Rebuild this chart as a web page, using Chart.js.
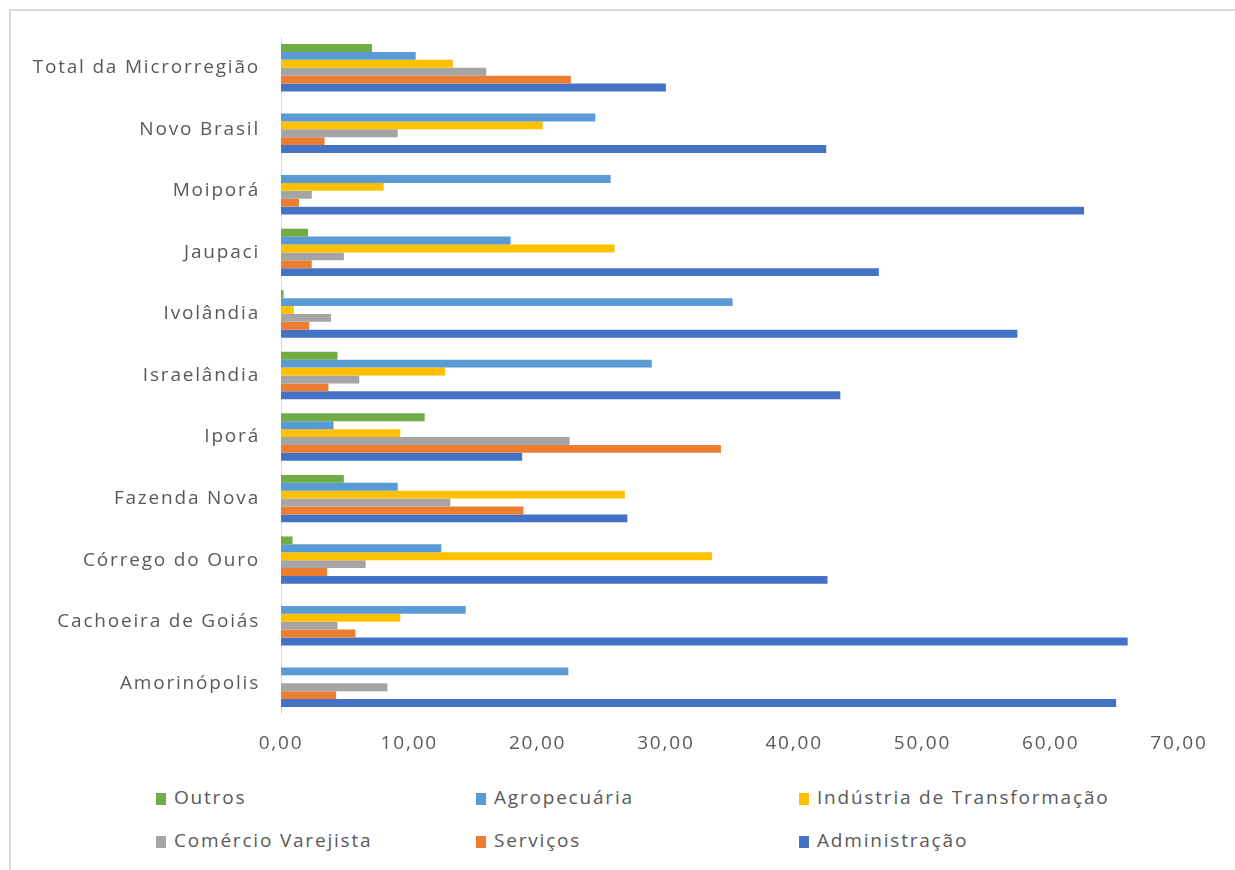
<!DOCTYPE html>
<html>
<head>
<meta charset="utf-8">
<script src="https://cdn.jsdelivr.net/npm/chart.js@4/dist/chart.umd.min.js"></script>
<style>
  html, body { margin: 0; padding: 0; background: #fff; }
  body { width: 1235px; height: 870px; position: relative; overflow: hidden; font-family: "Open Sans", sans-serif; }
  #frame { position: absolute; left: 9px; top: 9px; width: 1240px; height: 880px; border-left: 2px solid #d9d9d9; border-top: 2px solid #d9d9d9; }
  #wrap { position: absolute; left: 0; top: 0; width: 1235px; height: 770px; }
  #legend { position: absolute; left: 0; top: 780px; width: 1235px; height: 80px; }
  .item { position: absolute; font-size: 19px; color: #595959; white-space: nowrap; letter-spacing: 1.8px; }
  .box { display: inline-block; width: 10px; height: 12px; margin-right: 8px; vertical-align: -1px; }
</style>
</head>
<body>
<div id="frame"></div>
<div id="wrap"><canvas id="chart-sectors"></canvas></div>
<div id="legend"></div>
<script>
// categories, top to bottom
const municipios = [
    'Total da Microrregião', 'Novo Brasil', 'Moiporá', 'Jaupaci', 'Ivolândia',
    'Israelândia', 'Iporá', 'Fazenda Nova', 'Córrego do Ouro', 'Cachoeira de Goiás', 'Amorinópolis'
];

// series values (same order as municipios)
const outros        = [7.1, 0,    0,    2.1,  0.2,  4.4,  11.2, 4.9,  0.9,  0,    0];
const agropecuaria  = [10.5, 24.5, 25.7, 17.9, 35.2, 28.9, 4.1,  9.1,  12.5, 14.4, 22.4];
const industria     = [13.4, 20.4, 8.0,  26.0, 1.0,  12.8, 9.3,  26.8, 33.6, 9.3,  0];
const comercio      = [16.0, 9.1,  2.4,  4.9,  3.9,  6.1,  22.5, 13.2, 6.6,  4.4,  8.3];
const servicos      = [22.6, 3.4,  1.4,  2.4,  2.2,  3.7,  34.3, 18.9, 3.6,  5.8,  4.3];
const administracao = [30.0, 42.5, 62.6, 46.6, 57.4, 43.6, 18.8, 27.0, 42.6, 66.0, 65.1];

const tickValues = [0, 10, 20, 30, 40, 50, 60, 70];

const series = [
    { label: 'Outros', data: outros, color: '#70AD47' },
    { label: 'Agropecuária', data: agropecuaria, color: '#5B9BD5' },
    { label: 'Indústria de Transformação', data: industria, color: '#FFC000' },
    { label: 'Comércio Varejista', data: comercio, color: '#A5A5A5' },
    { label: 'Serviços', data: servicos, color: '#ED7D31' },
    { label: 'Administração', data: administracao, color: '#4472C4' }
];

const textColor = '#595959';
const font = { family: '"Open Sans", sans-serif', size: 19 };

// Excel-like wide text on the canvas
const spacingPlugin = {
    id: 'spacing',
    beforeUpdate: (chart) => { chart.ctx.letterSpacing = '1.8px'; },
    beforeDraw: (chart) => { chart.ctx.letterSpacing = '1.8px'; }
};

const ctx = document.getElementById('chart-sectors').getContext('2d');
new Chart(ctx, {
    type: 'bar',
    data: {
        labels: municipios,
        datasets: series.map(s => ({
            label: s.label,
            data: s.data,
            backgroundColor: s.color,
            borderWidth: 0,
            categoryPercentage: 0.77,
            barPercentage: 1.0
        }))
    },
    options: {
        indexAxis: 'y',
        responsive: true,
        maintainAspectRatio: false,
        animation: false,
        layout: { padding: { left: 0, right: 56, top: 37, bottom: 0 } },
        scales: {
            x: {
                min: 0, max: 70,
                afterBuildTicks: (scale) => { scale.ticks = tickValues.map(v => ({ value: v })); },
                afterFit: (scale) => { scale.height = 56; },
                grid: { display: false, drawTicks: false },
                border: { display: false },
                ticks: {
                    color: textColor, font, padding: 18,
                    callback: (v) => v.toFixed(2).replace('.', ',')
                }
            },
            y: {
                afterFit: (scale) => { scale.width = 281; },
                grid: { color: 'rgba(0,0,0,0)', drawTicks: false },
                border: { display: true, color: '#d9d9d9', width: 1 },
                ticks: { color: textColor, font, padding: 21 }
            }
        },
        plugins: {
            legend: { display: false },
            tooltip: { enabled: false }
        }
    },
    plugins: [spacingPlugin]
});

// legend in three columns, two rows
const legend = document.getElementById('legend');
const colX = [156, 476, 799];
const rowY = [4, 47];
series.forEach((s, i) => {
    const el = document.createElement('div');
    el.className = 'item';
    el.style.left = colX[i % 3] + 'px';
    el.style.top = rowY[Math.floor(i / 3)] + 'px';
    el.innerHTML = `<span class="box" style="background:${s.color}"></span>${s.label}`;
    legend.appendChild(el);
});
</script>
</body>
</html>
